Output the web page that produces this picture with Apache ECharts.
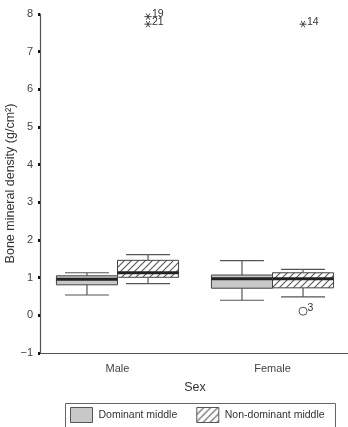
<!DOCTYPE html>
<html><head><meta charset="utf-8">
<script src="https://cdn.jsdelivr.net/npm/echarts@6/dist/echarts.min.js"></script>
<style>html,body{margin:0;padding:0;background:#fff}#c{width:348px;height:427px}</style>
</head><body><div id="c"></div>
<script>
// ---- data ----
const categories = ['Male', 'Female'];
const seriesNames = ['Dominant middle', 'Non-dominant middle'];
// [min, Q1, median, Q3, max]
const dominantStats = [[0.54, 0.81, 0.96, 1.05, 1.13], [0.40, 0.72, 0.97, 1.07, 1.45]];
const nonDominantStats = [[0.84, 1.01, 1.13, 1.46, 1.61], [0.49, 0.73, 0.97, 1.13, 1.22]];
const outlierCategory = [0, 0, 1, 1];
const outlierGroup = [1, 1, 1, 1];
const outlierValue = [7.93, 7.73, 7.73, 0.11];
const outlierLabel = ['19', '21', '14', '3'];
const outlierKind = ['extreme', 'extreme', 'extreme', 'outlier'];
const yMin = -1, yMax = 8, yInterval = 1;
const xTitle = 'Sex';
const yTitle = 'Bone mineral density (g/cm²)';

// ---- styles ----
const FONT = 'Liberation Sans, Arial, sans-serif';
const BOX_FRAC = 0.394;
function hatchCanvas() {
  const s = 7, c = document.createElement('canvas');
  c.width = s; c.height = s;
  const g = c.getContext('2d');
  g.fillStyle = '#fff'; g.fillRect(0, 0, s, s);
  g.strokeStyle = '#555'; g.lineWidth = 1.1;
  g.beginPath();
  g.moveTo(-1, s + 1); g.lineTo(s + 1, -1);
  g.moveTo(-1, 1); g.lineTo(1, -1);
  g.moveTo(s - 1, s + 1); g.lineTo(s + 1, s - 1);
  g.stroke();
  return c;
}
const hatch = { image: hatchCanvas(), repeat: 'repeat' };
const fills = ['#c8c8c8', hatch];

function boxRender(group) {
  return function (params, api) {
    const ci = api.value(0);
    const center = api.coord([ci, 0])[0];
    const band = api.size([1, 0])[0];
    const w = band * BOX_FRAC;
    const x0 = group === 0 ? center - w : center;
    const xc = x0 + w / 2;
    const y = k => api.coord([ci, api.value(k)])[1];
    const pMin = y(1), pQ1 = y(2), pMed = y(3), pQ3 = y(4), pMax = y(5);
    const cap = w * 0.72;
    const ls = { stroke: '#555', lineWidth: 1.2 };
    return {
      type: 'group',
      children: [
        { type: 'line', shape: { x1: xc, y1: pMax, x2: xc, y2: pQ3 }, style: ls },
        { type: 'line', shape: { x1: xc, y1: pQ1, x2: xc, y2: pMin }, style: ls },
        { type: 'line', shape: { x1: xc - cap / 2, y1: pMax, x2: xc + cap / 2, y2: pMax }, style: ls },
        { type: 'line', shape: { x1: xc - cap / 2, y1: pMin, x2: xc + cap / 2, y2: pMin }, style: ls },
        { type: 'rect', shape: { x: x0, y: pQ3, width: w, height: pQ1 - pQ3 },
          style: { fill: fills[group], stroke: '#444', lineWidth: 1 } },
        { type: 'line', shape: { x1: x0, y1: pMed, x2: x0 + w, y2: pMed },
          style: { stroke: '#222', lineWidth: 3 } }
      ]
    };
  };
}

function outlierRender(params, api) {
  const i = params.dataIndex;
  const ci = api.value(0), grp = api.value(1);
  const center = api.coord([ci, 0])[0];
  const band = api.size([1, 0])[0];
  const w = band * BOX_FRAC;
  const xc = (grp === 0 ? center - w : center) + w / 2;
  const yc = api.coord([ci, api.value(2)])[1];
  const children = [];
  const ts = { text: outlierLabel[i], font: '10.5px ' + FONT, fill: '#333', textVerticalAlign: 'middle', textAlign: 'left' };
  if (outlierKind[i] === 'extreme') {
    const r = 3.6;
    const ss = { stroke: '#444', lineWidth: 1 };
    children.push({ type: 'line', shape: { x1: xc - r, y1: yc, x2: xc + r, y2: yc }, style: ss });
    children.push({ type: 'line', shape: { x1: xc - r * 0.5, y1: yc - r * 0.87, x2: xc + r * 0.5, y2: yc + r * 0.87 }, style: ss });
    children.push({ type: 'line', shape: { x1: xc - r * 0.5, y1: yc + r * 0.87, x2: xc + r * 0.5, y2: yc - r * 0.87 }, style: ss });
    children.push({ type: 'text', x: xc + 4, y: yc - 2.5, style: ts });
  } else {
    children.push({ type: 'circle', shape: { cx: xc, cy: yc, r: 4 }, style: { fill: '#fff', stroke: '#555', lineWidth: 1 } });
    children.push({ type: 'text', x: xc + 4.5, y: yc - 3, style: ts });
  }
  return { type: 'group', children };
}

const toRows = stats => stats.map((s, i) => [i].concat(s));
const outlierRows = outlierValue.map((v, i) => [outlierCategory[i], outlierGroup[i], v]);

const chart = echarts.init(document.getElementById('c'), null, { renderer: 'canvas' });
chart.setOption({
  animation: false,
  textStyle: { fontFamily: FONT },
  grid: { left: 40, right: -2, top: 14, bottom: 74, containLabel: false, outerBoundsMode: 'none' },
  xAxis: {
    type: 'category', data: categories, boundaryGap: true,
    name: xTitle, nameLocation: 'middle', nameGap: 28, nameMoveOverlap: false,
    nameTextStyle: { fontSize: 12.5, color: '#333', fontFamily: FONT },
    axisLine: { onZero: false, lineStyle: { color: '#555', width: 1.2 } },
    axisTick: { alignWithLabel: true, length: 3, lineStyle: { color: '#111', width: 3 } },
    axisLabel: { fontSize: 11, color: '#444', margin: 10, fontFamily: FONT },
    splitLine: { show: false }
  },
  yAxis: {
    type: 'value', min: yMin, max: yMax, interval: yInterval,
    name: yTitle, nameLocation: 'middle', nameGap: 23, nameMoveOverlap: false,
    nameTextStyle: { fontSize: 12.5, color: '#333', fontFamily: FONT },
    axisLine: { show: true, lineStyle: { color: '#555', width: 1.2 } },
    axisTick: { show: true, length: 2, inside: false, lineStyle: { color: '#111', width: 3 } },
    axisLabel: { fontSize: 11, color: '#444', margin: 7, fontFamily: FONT,
      formatter: v => String(v).replace('-', '\u2212') },
    splitLine: { show: false }
  },
  legend: {
    left: 70, top: 407, padding: 0, itemWidth: 22, itemHeight: 15, itemGap: 19,
    textStyle: { fontSize: 10.5, color: '#333', fontFamily: FONT, padding: [0, 0, 0, 1] },
    data: [
      { name: seriesNames[0], icon: 'rect', itemStyle: { color: fills[0], borderColor: '#555', borderWidth: 1 } },
      { name: seriesNames[1], icon: 'rect', itemStyle: { color: fills[1], borderColor: '#555', borderWidth: 1 } }
    ],
    selectedMode: false
  },
  graphic: [{ type: 'rect', left: 63, top: 401, shape: { width: 270, height: 40 },
    style: { fill: 'none', stroke: '#666', lineWidth: 1 }, silent: true }],
  series: [
    { name: seriesNames[0], type: 'custom', renderItem: boxRender(0), data: toRows(dominantStats),
      itemStyle: { color: '#c8c8c8' }, encode: { x: 0, y: [1, 2, 3, 4, 5] } },
    { name: seriesNames[1], type: 'custom', renderItem: boxRender(1), data: toRows(nonDominantStats),
      itemStyle: { color: '#fff' }, encode: { x: 0, y: [1, 2, 3, 4, 5] } },
    { name: 'outliers', type: 'custom', renderItem: outlierRender, data: outlierRows,
      encode: { x: 0, y: 2 } }
  ]
});
</script></body></html>
